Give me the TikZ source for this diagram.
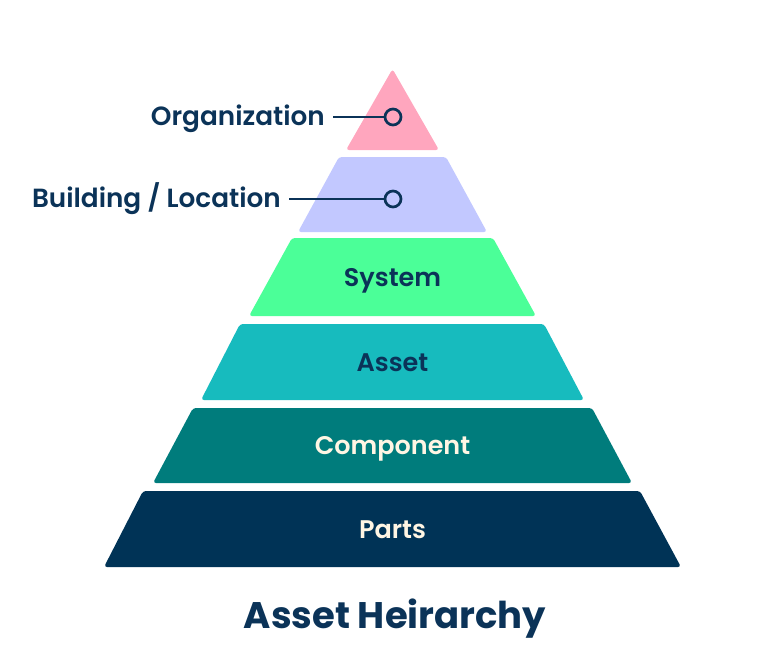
\documentclass[tikz,border=0pt]{standalone}
\usepackage{fontspec}
\setmainfont{Poppins}
\newfontfamily\medfont{Poppins SemiBold}
\newfontfamily\boldfont{Poppins Bold}
\definecolor{orgpink}{HTML}{FFA6BE}
\definecolor{loclav}{HTML}{C2C8FF}
\definecolor{sysgreen}{HTML}{4BFF98}
\definecolor{assetteal}{HTML}{17BBBE}
\definecolor{compteal}{HTML}{007C7C}
\definecolor{partsnavy}{HTML}{003356}
\definecolor{inknavy}{HTML}{0B3358}
\definecolor{cream}{HTML}{FFF6E4}
\tikzset{layer/.style={
  rounded corners=3pt
}}
\tikzset{lvl/.style={
  inner sep=0pt,
  text height=18pt,
  text depth=0pt,
  font=\medfont\fontsize{25.5}{28}\selectfont
}}
\tikzset{side/.style={lvl,text=inknavy,anchor=east,
  font=\medfont\fontsize{26.3}{29}\selectfont}}
\tikzset{dot/.style={
  draw=inknavy,
  line width=2.7pt,
  shape=circle,
  minimum size=16pt,
  inner sep=0pt
}}
\tikzset{link/.style={draw=inknavy,line width=2.7pt,shorten <=8pt}}

\begin{document}
\begin{tikzpicture}[x=1pt,y=-1pt]
  \useasboundingbox (0,0) rectangle (778,670);

  % Pyramid layers, top to bottom
  \fill[layer,orgpink] (392.5,69) -- (439,150) -- (346,150) -- cycle;
  \fill[layer,loclav] (339,157) -- (446,157) -- (487,232) -- (298,232) -- cycle;
  \fill[layer,sysgreen] (292,238) -- (493,238) -- (536,316) -- (249,316) -- cycle;
  \fill[layer,assetteal] (240,324) -- (544,324) -- (584,400) -- (201,400) -- cycle;
  \fill[layer,compteal] (193,408) -- (592,408) -- (632,483) -- (153,483) -- cycle;
  \fill[layer,partsnavy] (143,491) -- (640,491) -- (681,567) -- (104,567) -- cycle;

  % Layer names
  \node[lvl,text=inknavy] (system) at (392.5,277) {System};
  \node[lvl,text=inknavy] (asset) at (392.5,362) {Asset};
  \node[lvl,text=cream] (component) at (392.5,445.5) {Component};
  \node[lvl,text=cream] (parts) at (392.5,529) {Parts};

  % Callouts for the two top layers
  \node[dot] (orgdot) at (393,117) {};
  \node[dot] (locdot) at (393,199) {};
  \node[side] (org) at (325,116) {Organization};
  \node[side] (loc) at (281,198) {Building / Location};
  \draw[link] (org.east |- orgdot) -- (orgdot);
  \draw[link] (loc.east |- locdot) -- (locdot);

  % Title
  \node[inner sep=0pt,text height=26pt,text depth=0pt,text=inknavy,
    font=\boldfont\fontsize{37}{40}\selectfont] (heading) at (395,615.5)
    {Asset Heirarchy};

\end{tikzpicture}
\end{document}
